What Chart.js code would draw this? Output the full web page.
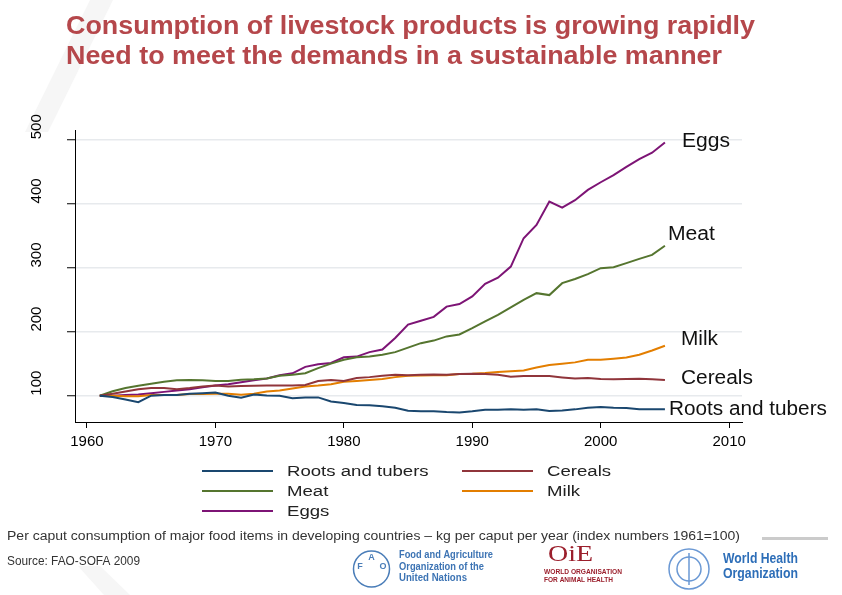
<!DOCTYPE html>
<html>
<head>
<meta charset="utf-8">
<script src="https://cdn.jsdelivr.net/npm/chart.js@4/dist/chart.umd.min.js"></script>
<style>
  html, body { margin: 0; padding: 0; background: #fff; }
  #wrap { width: 842px; height: 595px; }
</style>
</head>
<body>
<div id="wrap"><canvas id="foodChart" width="842" height="595"></canvas></div>
<script>
// index numbers, 1961 = 100
const years = []
for(let y = 1961; y <= 2005; y++) years.push(y)

const seriesNames = ["Roots and tubers", "Cereals", "Meat", "Milk", "Eggs"]

const rootsValues = [100,98,94,90,100,101,101,103,104,105,
  100,97,102,100.5,100,96,97.4,97.4,91,88.6,
  85.5,85,83.4,81.3,76.6,75.6,75.6,74.5,74,75.6,
  78,78,78.7,78,79,76,77,78.7,81.3,82.3,
  81.3,80.8,79,79,79]

const cerealsValues = [100,103,106.7,110,112,112,110,112,114.5,116,
  114.5,115,115.6,116,116,116,116.6,123,124.4,123,
  127.5,129,131,132.7,132,132.7,133,132.7,133.8,134.3,
  133.8,132.7,129.6,130.6,130.6,130.6,128.6,127,127.5,126,
  125.5,126,126.5,125.5,124.4]

const meatValues = [100,107,112,115.6,118.7,121.8,124,124.4,124,123,
  123,125,125.5,127,131,132.7,135,143,150,156,
  160,161,164,168,175,182,186,192.5,195.6,205.5,
  216,226,237.7,249.6,260,257,275.6,282,289.6,299,
  300.5,306.8,313.5,319.7,334]

const milkValues = [100,100,99,99,101,101,101,102.6,102.6,103,
  103,101.6,103,106.7,108.3,111.4,114.5,116,118,121.8,
  123,124.4,126,129,131,131.7,132,132,133.8,134.3,
  135.3,136.9,138,139.5,144,148,150,152,156,156,
  157.7,159.7,164,170.6,178]

const eggsValues = [100,100,101,102,104,106,108,110,113,116,
  118,121,124,127,132,135,145,149,151,160,
  161,168,172,190,211,217,223,239,243,255,
  274.5,284,301.5,345.7,366.5,403,393.5,405,421,433,
  444,457,469,479,495]

const xTicks = [1960, 1970, 1980, 1990, 2000, 2010]
const yTicks = [100, 200, 300, 400, 500]

const seriesValues = [rootsValues, cerealsValues, meatValues, milkValues, eggsValues]
const seriesColors = ["#1a476f", "#90353b", "#55752f", "#e37e00", "#7d1475"]

// label at the end of each line: offset from last point, target text width
const endLabels = [
  { name: "Roots and tubers", dx: 4, dy: 0, w: 158 },
  { name: "Cereals", dx: 16, dy: -2, w: 72 },
  { name: "Meat", dx: 3, dy: -11, w: 47 },
  { name: "Milk", dx: 16, dy: -6, w: 37 },
  { name: "Eggs", dx: 17, dy: -1, w: 48 }
]

const FONT = '"Liberation Sans", Arial, sans-serif'

function fitText(ctx, text, x, y, font, width){
  ctx.font = font
  const natural = ctx.measureText(text).width
  ctx.save()
  ctx.translate(x, y)
  ctx.scale(width / natural, 1)
  ctx.fillText(text, 0, 0)
  ctx.restore()
}

function scaledText(ctx, text, x, y, font, factor){
  ctx.font = font
  ctx.save()
  ctx.translate(x, y)
  ctx.scale(factor, 1)
  ctx.fillText(text, 0, 0)
  ctx.restore()
}

const slidePlugin = {
  id: "slide",
  beforeDraw(chart){
    const ctx = chart.ctx
    ctx.save()
    ctx.fillStyle = "#ffffff"
    ctx.fillRect(0, 0, chart.width, chart.height)
    ctx.fillStyle = "#f6f6f6"
    ctx.beginPath()
    ctx.moveTo(90, 0); ctx.lineTo(113, 0); ctx.lineTo(48, 132); ctx.lineTo(25, 132)
    ctx.closePath(); ctx.fill()
    ctx.beginPath()
    ctx.moveTo(78, 566); ctx.lineTo(100, 566); ctx.lineTo(130, 595); ctx.lineTo(104, 595)
    ctx.closePath(); ctx.fill()
    ctx.restore()
  },
  afterDraw(chart){
    const ctx = chart.ctx
    const xs = chart.scales.x
    const ys = chart.scales.y
    ctx.save()

    // title
    ctx.fillStyle = "#b5474b"
    ctx.textBaseline = "alphabetic"
    ctx.textAlign = "left"
    fitText(ctx, "Consumption of livestock products is growing rapidly", 66, 34, "bold 26px " + FONT, 689)
    fitText(ctx, "Need to meet the demands in a sustainable manner", 66, 64, "bold 26px " + FONT, 656)

    // rotated y tick labels
    ctx.fillStyle = "#000"
    ctx.font = "15px " + FONT
    ctx.textBaseline = "middle"
    yTicks.forEach((v) => {
      const py = ys.getPixelForValue(v)
      ctx.save()
      ctx.translate(37, py)
      ctx.rotate(-Math.PI / 2)
      ctx.textAlign = "left"
      ctx.fillText(String(v), 0, 0)
      ctx.restore()
    })

    // labels at line ends
    ctx.fillStyle = "#111"
    endLabels.forEach((lab) => {
      const i = seriesNames.indexOf(lab.name)
      const vals = seriesValues[i]
      const px = xs.getPixelForValue(years[years.length - 1]) + lab.dx
      const py = ys.getPixelForValue(vals[vals.length - 1]) + lab.dy
      fitText(ctx, lab.name, px, py, "20px " + FONT, lab.w)
    })

    // legend, two columns
    const colLine = [202, 462]
    const colText = [287, 547]
    const rowY = [471, 491, 511]
    seriesNames.forEach((name, i) => {
      const col = i === 1 || i === 3 ? 1 : 0
      const row = i < 2 ? 0 : (i < 4 ? 1 : 2)
      ctx.strokeStyle = seriesColors[i]
      ctx.lineWidth = 2
      ctx.beginPath()
      ctx.moveTo(colLine[col], rowY[row])
      ctx.lineTo(colLine[col] + 71, rowY[row])
      ctx.stroke()
      ctx.fillStyle = "#222"
      scaledText(ctx, name, colText[col], rowY[row] + 1, "15.5px " + FONT, 1.2)
    })

    // footnote and source
    ctx.fillStyle = "#333"
    fitText(ctx, "Per caput consumption of major food items in developing countries \u2013 kg per caput per year (index numbers 1961=100)", 7, 537, "12.5px " + FONT, 733)
    fitText(ctx, "Source: FAO-SOFA 2009", 7, 561, "13px " + FONT, 133)
    ctx.fillStyle = "#cbcbcb"
    ctx.fillRect(762, 537, 66, 3)

    // FAO
    ctx.strokeStyle = "#4a7db8"
    ctx.lineWidth = 1.5
    ctx.beginPath()
    ctx.arc(371.5, 569, 18, 0, Math.PI * 2)
    ctx.stroke()
    ctx.fillStyle = "#4a7db8"
    ctx.textAlign = "center"
    ctx.font = "bold 9px " + FONT
    ctx.fillText("F", 360, 567)
    ctx.fillText("A", 371.5, 558)
    ctx.fillText("O", 383, 567)
    ctx.textAlign = "left"
    ctx.fillStyle = "#3d74b4"
    fitText(ctx, "Food and Agriculture", 399, 555, "bold 11px " + FONT, 94)
    fitText(ctx, "Organization of the", 399, 567, "bold 11px " + FONT, 85)
    fitText(ctx, "United Nations", 399, 578, "bold 11px " + FONT, 68)

    // OIE
    ctx.fillStyle = "#9b1f2c"
    fitText(ctx, "OiE", 548, 555, '24px "Liberation Serif", serif', 45)
    fitText(ctx, "WORLD ORGANISATION", 544, 572, "bold 7px " + FONT, 78)
    fitText(ctx, "FOR ANIMAL HEALTH", 544, 580, "bold 7px " + FONT, 69)

    // WHO
    ctx.strokeStyle = "#6a98d4"
    ctx.lineWidth = 1.5
    ctx.beginPath()
    ctx.arc(689, 569, 20, 0, Math.PI * 2)
    ctx.stroke()
    ctx.beginPath()
    ctx.arc(689, 569, 12, 0, Math.PI * 2)
    ctx.stroke()
    ctx.beginPath()
    ctx.moveTo(689, 553); ctx.lineTo(689, 585)
    ctx.stroke()
    ctx.fillStyle = "#2d6eb8"
    fitText(ctx, "World Health", 723, 559, "bold 15px " + FONT, 75)
    fitText(ctx, "Organization", 723, 574, "bold 15px " + FONT, 75)

    ctx.restore()
  }
}

const datasets = seriesNames.map((name, i) => ({
  label: name,
  data: years.map((yr, j) => ({ x: yr, y: seriesValues[i][j] })),
  borderColor: seriesColors[i],
  backgroundColor: seriesColors[i],
  borderWidth: 2,
  pointRadius: 0,
  tension: 0,
  fill: false
}))

new Chart(document.getElementById("foodChart"), {
  type: "line",
  data: { datasets },
  options: {
    responsive: false,
    animation: false,
    layout: { padding: { left: 0, right: 100, top: 130, bottom: 0 } },
    plugins: {
      legend: { display: false },
      tooltip: { enabled: false },
      title: { display: false }
    },
    scales: {
      x: {
        type: "linear",
        min: 1959.07,
        max: 2011,
        afterBuildTicks: (s) => { s.ticks = xTicks.map((v) => ({ value: v })) },
        afterFit: (s) => { s.height = 173 },
        border: { color: "#000", width: 1 },
        grid: { drawOnChartArea: false, drawTicks: true, tickLength: 6, tickColor: "#000", tickWidth: 1 },
        ticks: {
          color: "#000",
          padding: 5,
          maxRotation: 0,
          font: { family: "Liberation Sans", size: 15 },
          callback: (v) => String(v)
        }
      },
      y: {
        min: 59,
        max: 514.5,
        afterBuildTicks: (s) => { s.ticks = yTicks.map((v) => ({ value: v })) },
        afterFit: (s) => { s.width = 75 },
        border: { color: "#000", width: 1 },
        grid: { color: "#e7eaed", lineWidth: 1.5, drawTicks: true, tickLength: 8, tickColor: "#000", tickWidth: 1 },
        ticks: { color: "rgba(0,0,0,0)", font: { size: 15 } }
      }
    }
  },
  plugins: [slidePlugin]
})
</script>
</body>
</html>
